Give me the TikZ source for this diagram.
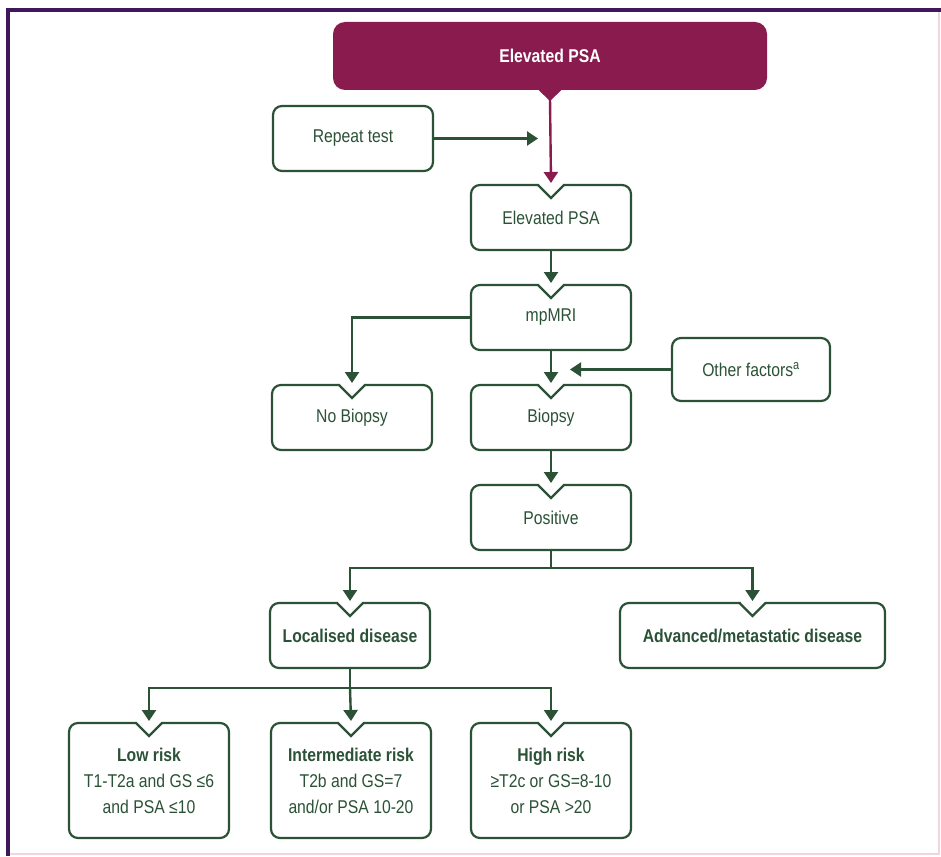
\documentclass[tikz,border=0pt]{standalone}
\usepackage{fontspec}
\setmainfont{Liberation Sans}[FakeStretch=0.85]
\usetikzlibrary{arrows.meta,calc}
\definecolor{grn}{HTML}{2B5236}
\definecolor{plum}{HTML}{8A1B4E}
\definecolor{frm}{HTML}{40185A}
\definecolor{pale}{HTML}{F1D5E0}
\newcommand{\notchbox}[1]{%
  \fill[white] ([xshift=-12pt,yshift=-1.6pt]#1.north) rectangle ([xshift=12pt,yshift=1.6pt]#1.north);
  \draw[grn,line width=2.2pt,line join=miter] ([xshift=-13pt]#1.north) -- ([yshift=-13pt]#1.north) -- ([xshift=13pt]#1.north);}
\begin{document}
\begin{tikzpicture}[x=1pt,y=-1pt,
  box/.style={draw=grn, line width=2.2pt, rounded corners=9pt, fill=white,
    minimum width=160pt, minimum height=65pt, text=grn, align=center,
    font=\fontsize{18.5}{26}\selectfont, outer sep=0pt, inner sep=2pt},
  topbox/.style={fill=plum, rounded corners=12pt, minimum width=434pt,
    minimum height=68pt, text=white, font=\fontsize{18.5}{22}\selectfont\bfseries,
    outer sep=0pt},
  conn/.style={draw=grn, line width=2.4pt},
  arr/.style={conn, -{Triangle[width=14pt,length=11pt]}},
  parr/.style={draw=plum, line width=2.4pt, -{Triangle[width=14pt,length=11pt]}}]
\useasboundingbox (0,0) rectangle (941,856);
% frame
\draw[pale, line width=1.2pt] (941,10) -- (939,10) -- (939,854) -- (8,854);
\draw[frm, line width=4pt] (941,10) -- (8,10) -- (8,856);
% nodes
\node[topbox] (top) at (550,56) {Elevated PSA};
\node[box] (rep) at (353,138.5) {Repeat test};
\node[box] (epsa) at (551,217.5) {Elevated PSA};
\node[box] (mri) at (551,317.5) {mpMRI};
\node[box] (nob) at (352,417.5) {No Biopsy};
\node[box] (bio) at (551,417.5) {Biopsy};
\node[box, minimum width=158pt, minimum height=63pt] (oth) at (751,369.5) {Other factors\textsuperscript{a}};
\node[box] (pos) at (551,517.5) {Positive};
\node[box, font=\fontsize{18.5}{26}\selectfont\bfseries] (loc) at (350,635.5) {Localised disease};
\node[box, minimum width=265pt, font=\fontsize{18.5}{26}\selectfont\bfseries] (adv) at (752.5,635.5) {Advanced/metastatic disease};
\node[box, minimum height=115pt] (low) at (149,780.5) {\textbf{Low risk}\\T1-T2a and GS ≤6\\and PSA ≤10};
\node[box, minimum height=115pt] (mid) at (351,780.5) {\textbf{Intermediate risk}\\T2b and GS=7\\and/or PSA 10-20};
\node[box, minimum height=115pt] (high) at (551,780.5) {\textbf{High risk}\\≥T2c or GS=8-10\\or PSA >20};
% notches
\foreach \n in {epsa,mri,nob,bio,pos,loc,adv,low,mid,high} {\notchbox{\n}}
% top pointer
\fill[plum] ([xshift=-12pt,yshift=0.5pt]top.south) -- ([xshift=12pt,yshift=0.5pt]top.south) -- ([yshift=-11pt]top.south) -- cycle;
% connectors
\coordinate (rpend) at (538,138.5);
\coordinate (othend) at (570,369.5);
\coordinate (j1) at (551,568);
\coordinate (j2) at (350,688);
\draw[parr] ([yshift=-9pt]top.south) -- ([yshift=2pt]epsa.north);
\draw[arr] (rep.east) -- (rpend);
\draw[arr] (epsa.south) -- ([yshift=2pt]mri.north);
\draw[arr] (mri.west) -| ([yshift=2pt]nob.north);
\draw[arr] (mri.south) -- ([yshift=2pt]bio.north);
\draw[arr] (oth.west) -- (othend);
\draw[arr] (bio.south) -- ([yshift=2pt]pos.north);
\draw[conn] (pos.south) -- (j1);
\draw[arr] (j1) -| ([yshift=2pt]loc.north);
\draw[arr] (j1) -| ([yshift=2pt]adv.north);
\draw[conn] (loc.south) -- (j2);
\draw[arr] (j2) -| ([yshift=2pt]low.north);
\draw[arr] (j2) -- ([yshift=2pt]mid.north);
\draw[arr] (j2) -| ([yshift=2pt]high.north);
\end{tikzpicture}
\end{document}
